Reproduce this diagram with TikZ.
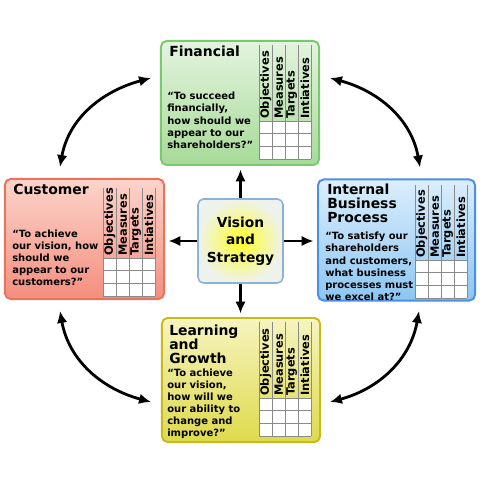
\documentclass[tikz,border=0pt]{standalone}
\usepackage{fontspec}
\setmainfont{DejaVu Sans}
\usetikzlibrary{positioning, calc, arrows.meta}

\definecolor{finline}{HTML}{7CC870}
\definecolor{fintop}{HTML}{E4F4DE}
\definecolor{finbot}{HTML}{A6DA98}
\definecolor{cusline}{HTML}{E8745C}
\definecolor{custop}{HTML}{FCD4CA}
\definecolor{cusbot}{HTML}{F48E7E}
\definecolor{ibpline}{HTML}{4A8EE6}
\definecolor{ibptop}{HTML}{DCEEFC}
\definecolor{ibpbot}{HTML}{8CC6F2}
\definecolor{lrnline}{HTML}{C8BA1C}
\definecolor{lrntop}{HTML}{F6F4C0}
\definecolor{lrnbot}{HTML}{DEDA4C}
\definecolor{visline}{HTML}{8CB2DA}
\definecolor{visedge}{HTML}{EEF2EC}
\definecolor{gridgray}{HTML}{8A8A8A}

% measures grid: #1 name, #2/#3 top left (px), #4 header height
\newcommand{\bscgrid}[4]{
  \begin{scope}[shift={(#2,#3)}]
    \fill[white] (0,#4) rectangle (52,#4+38);
    \foreach \c in {0,1,2,3,4}
      \draw[gridline] (\c*13,0) -- (\c*13,#4+38);
    \foreach \r in {0,1,2,3}
      \draw[gridline] (0,#4+\r*12.67) -- (52,#4+\r*12.67);
    \foreach \t [count=\k] in {Objectives,Measures,Targets,Intiatives}
      \node[colhead] (#1-\k) at (\k*13-6.2,#4-2) {\t};
  \end{scope}
}

\begin{document}
\begin{tikzpicture}[
    x=0.025cm, y=-0.025cm,
    box/.style={draw, rectangle, rounded corners=4pt, line width=1.4pt},
    title/.style={anchor=north west, inner sep=0, align=left, font=\fontsize{9.9}{10}\selectfont\bfseries},
    quote/.style={anchor=north west, inner sep=0, align=left, font=\fontsize{7.1}{8.6}\selectfont\bfseries},
    colhead/.style={rotate=90, anchor=west, inner sep=0, font=\fontsize{8.1}{8}\selectfont\bfseries},
    gridline/.style={draw=gridgray, line width=0.6pt},
    link/.style={line width=2pt, >={Latex[length=8.5pt, width=7.5pt]}}
]
    \useasboundingbox (0,0) rectangle (484,484);

    % --- Financial ---
    \node[box, draw=finline, top color=fintop, bottom color=finbot,
          minimum width=3.95cm, minimum height=3.1cm] (fin) at (240,103) {};
    \node[title] (fintitle) at (169,45.5) {Financial};
    \node[quote] (finquote) at (167,92) {“To succeed\\financially,\\how should we\\appear to our\\shareholders?”};
    \bscgrid{fingrid}{259}{45}{76}

    % --- Customer ---
    \node[box, draw=cusline, top color=custop, bottom color=cusbot,
          minimum width=3.975cm, minimum height=3cm] (cus) at (84.5,239) {};
    \node[title] (custitle) at (13,183.5) {Customer};
    \node[quote] (cusquote) at (12,229.5) {“To achieve\\our vision, how\\should we\\appear to our\\customers?”};
    \bscgrid{cusgrid}{103}{188}{70}

    % --- Internal Business Process ---
    \node[box, draw=ibpline, top color=ibptop, bottom color=ibpbot,
          minimum width=3.925cm, minimum height=3.025cm] (ibp) at (396.5,240) {};
    \node[title] (ibptitle) at (327,183.5) {Internal\\Business\\Process};
    \node[quote] (ibpquote) at (325,232) {“To satisfy our\\shareholders\\and customers,\\what business\\processes must\\we excel at?”};
    \bscgrid{ibpgrid}{415}{185}{75}

    % --- Learning and Growth ---
    \node[box, draw=lrnline, top color=lrntop, bottom color=lrnbot,
          minimum width=3.95cm, minimum height=3.1cm] (lrn) at (241,380) {};
    \node[title] (lrntitle) at (169,324.5) {Learning\\and\\Growth};
    \node[quote] (lrnquote) at (167,368.5) {“To achieve\\our vision,\\how will we\\our ability to\\change and\\improve?”};
    \bscgrid{lrngrid}{259}{322}{76}

    % --- Vision and Strategy ---
    \node[box, draw=visline, line width=1.1pt, inner color=yellow!85!white, outer color=visedge,
          minimum width=2.125cm, minimum height=2.1cm, align=center,
          font=\fontsize{9.8}{12.4}\selectfont\bfseries] (vis) at (240.5,241) {Vision\\and\\Strategy};

    % links from the centre
    \draw[link, ->, shorten >=2.5pt] (vis.north) -- (vis.north |- fin.south);
    \draw[link, ->, shorten >=2.5pt] (vis.south) -- (vis.south |- lrn.north);
    \draw[link, ->, shorten >=2.5pt] (vis.west) -- (vis.west -| cus.east);
    \draw[link, ->, shorten >=2.5pt] (vis.east) -- (vis.east -| ibp.west);

    % curved links between the perspectives
    \coordinate (ul1) at ($(cus.north)+(-24.5,-11)$);
    \coordinate (ul2) at ($(fin.west)+(-9,-25)$);
    \coordinate (ur1) at ($(fin.east)+(10,-25)$);
    \coordinate (ur2) at ($(ibp.north)+(23.5,-11)$);
    \coordinate (ll1) at ($(cus.south)+(-24.5,11)$);
    \coordinate (ll2) at ($(lrn.west)+(-10,22)$);
    \coordinate (lr1) at ($(ibp.south)+(22.5,9.5)$);
    \coordinate (lr2) at ($(lrn.east)+(9,22)$);
    \draw[link, <->] (ul1) to[out=80, in=195] (ul2);
    \draw[link, <->] (ur1) to[out=-15, in=100] (ur2);
    \draw[link, <->] (ll1) to[out=-80, in=165] (ll2);
    \draw[link, <->] (lr1) to[out=-100, in=15] (lr2);

\end{tikzpicture}
\end{document}
